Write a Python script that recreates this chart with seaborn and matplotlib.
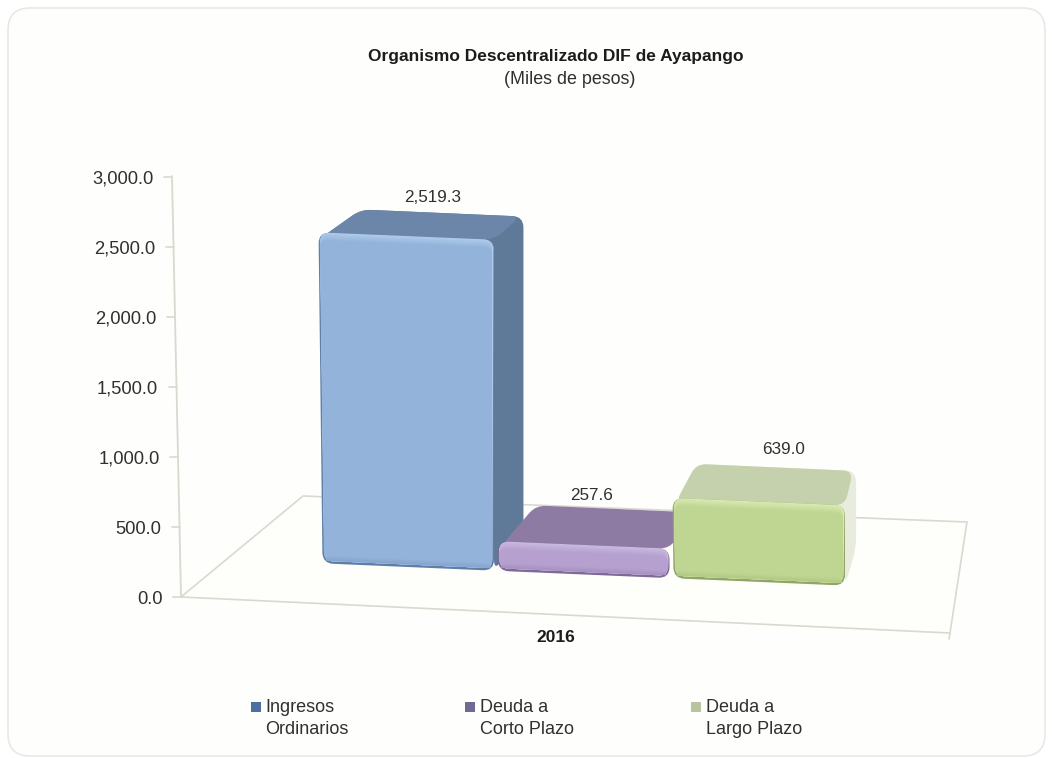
import numpy as np
import pandas as pd
import matplotlib
matplotlib.use("Agg")
import matplotlib.pyplot as plt
import seaborn as sns
from matplotlib.patches import FancyBboxPatch, PathPatch, Polygon, Rectangle
from matplotlib.path import Path
from matplotlib.transforms import Affine2D
from matplotlib.colors import to_rgb

# -----------------------------
# DATA
# -----------------------------
years = [2016, 2016, 2016]
series = ["Ingresos Ordinarios", "Deuda a Corto Plazo", "Deuda a Largo Plazo"]
values = [2519.3, 257.6, 639.0]
y_ticks = [0, 500, 1000, 1500, 2000, 2500, 3000]
legend_lines = [("Ingresos", "Ordinarios"), ("Deuda a", "Corto Plazo"), ("Deuda a", "Largo Plazo")]

# -----------------------------
# STYLE
# -----------------------------
face = ["#93B3DB", "#B5A0CF", "#BFD692"]
light = ["#AECAEA", "#C9B8E0", "#D9E9B0"]
dark = ["#5F7FA8", "#7D6A97", "#8FA668"]
top_c = ["#6B86A9", "#8E7BA3", "#C5D0AC"]
side_c = ["#5F7999", "#7F6E95", "#E8ECDE"]
legend_c = ["#4B6F9F", "#6E6A93", "#B9C5A0"]
label_xy = [(433, 198), (592, 496), (784, 450)]
legend_x = [251, 465, 691]
grey = "#D9D9D0"
txt = "#303030"

W, H = 1052, 758

sns.set_theme(style="white")
plt.rcParams["font.family"] = ["Liberation Sans", "DejaVu Sans"]

fig = plt.figure(figsize=(W / 100, H / 100), dpi=100, facecolor="white")
ax = fig.add_axes([172 / W, 1 - 597 / H, (967 - 172) / W, 420 / H])
ax.patch.set_alpha(0)

# image pixels, y going down
PX = Affine2D().scale(1, -1).translate(0, H)

df = pd.DataFrame({"year": years, "serie": series, "value": values})
sns.barplot(data=df, x="year", y="value", hue="serie", hue_order=series,
            palette=face, width=0.9, gap=0.02, legend=False, ax=ax)

ax.set_xlim((172 - 583.5) / 585, (967 - 583.5) / 585)
ax.set_ylim(0, 3000)
ax.set_xlabel("")
ax.set_ylabel("")
ax.set_xticks([])
ax.set_yticks(y_ticks)
ax.set_yticklabels([f"{t:,.1f}" for t in y_ticks], fontsize=13.2, color=txt)
ax.tick_params(axis="y", length=0, pad=0)
sns.despine(ax=ax, left=True, bottom=True)


def axis_x(v):
    return 181 - 9 * v / 3000


# tick labels lean with the axis
for t, lab in zip(y_ticks, ax.get_yticklabels()):
    lab.set_transform(lab.get_transform() + Affine2D().translate(axis_x(t) - 18.5 - 172, 0))


def rounded(pts, r):
    pts = [np.array(p, dtype=float) for p in pts]
    n = len(pts)
    verts, codes = [], []
    for i in range(n):
        p, a, b = pts[i], pts[i - 1], pts[(i + 1) % n]
        rr = min(r, np.linalg.norm(a - p) / 2, np.linalg.norm(b - p) / 2)
        p1 = p + (a - p) / np.linalg.norm(a - p) * rr
        p2 = p + (b - p) / np.linalg.norm(b - p) * rr
        verts += [p1, p, p2]
        codes += [Path.LINETO if i else Path.MOVETO, Path.CURVE3, Path.CURVE3]
    verts.append(verts[0])
    codes.append(Path.CLOSEPOLY)
    return Path(verts, codes)


def shape(pts, r, color, z):
    ax.add_patch(PathPatch(rounded(pts, r), fc=color, ec="none", transform=PX, clip_on=False, zorder=z))


def mix(a, b, t):
    a, b = np.array(to_rgb(a)), np.array(to_rgb(b))
    return tuple(a + (b - a) * t)


def depth(x, y):
    return 59.3 - 0.075 * x + 0.03 * y, -(23 + 0.042 * (y - 235))


def base_y(x):
    return 563.5 + 0.0425 * (x - 325)


# -----------------------------
# FRAME AND FLOOR
# -----------------------------
ax.add_patch(FancyBboxPatch((30, 30), 993, 704, boxstyle="round,pad=22,rounding_size=22",
                            fc="#FEFEFC", ec="#E8E8E4", lw=1.2, transform=PX, clip_on=False, zorder=-5))
floor = [(181, 597), (303, 496), (967, 522), (950, 633)]
ax.add_patch(Polygon(floor, closed=True, fc="#FEFEFA", ec=grey, lw=1.2, transform=PX, clip_on=False, zorder=0))
ax.plot([axis_x(3000), axis_x(0)], [176, 597], color=grey, lw=1.3, transform=PX, clip_on=False, zorder=1)
ax.plot([950, 949], [633, 639], color=grey, lw=1.2, transform=PX, clip_on=False, zorder=1)
for t in y_ticks:
    y0 = ax.transData.transform((0, t))[1]
    ax.plot([axis_x(t) - 8, axis_x(t)], [H - y0, H - y0], color=grey, lw=1.2,
            transform=PX, clip_on=False, zorder=1)

# -----------------------------
# 3D BOXES FROM THE SEABORN BARS
# -----------------------------
bars = sorted([p for p in ax.patches if isinstance(p, Rectangle) and p.get_height() > 0
               and p.get_width() < 1], key=lambda p: p.get_x())
for i, p in enumerate(bars):
    xl = ax.transData.transform((p.get_x(), 0))[0]
    xr = ax.transData.transform((p.get_x() + p.get_width(), 0))[0]
    hpx = ax.transData.transform((0, p.get_height()))[1] - ax.transData.transform((0, 0))[1]
    h = 0.952 * hpx - 4.8
    p.set_visible(False)

    z = 10 + i * 10
    bl = (xl + 0.5, base_y(xl))
    br = (xr, base_y(xr))
    tl = (xl - 0.012 * h + 0.5, base_y(xl) - h)
    tr = (xr, base_y(xr) - h)

    dtl = depth(*tl)
    dtr = depth(*tr)
    btl = (tl[0] + dtl[0], tl[1] + dtl[1])
    btr = (tr[0] + dtr[0], tr[1] + dtr[1])
    bbr = (btr[0], br[1] + depth(*br)[1])
    shoulder = (tl[0] + 3, tl[1] + 5)

    # side and top share one rounded outline, the short purple box shows no side
    if i == 1:
        shape([shoulder, btl, btr, tr], 10, top_c[i], z)
    else:
        shape([shoulder, btl, btr, bbr, br, tr], 11, side_c[i], z)
        shape([shoulder, btl, (btr[0] - 3, btr[1]), tr], 10, top_c[i], z + 0.5)

    # front: dark rim, light band along the top, darker towards the foot
    front = [tl, tr, br, bl]
    shape(front, 11, dark[i], z + 2)
    inner = [(tl[0] + 1.2, tl[1]), (tr[0] - 0.5, tr[1]), (br[0] - 1.5, br[1] - 2.5), (bl[0] + 1.5, bl[1] - 2.5)]
    shape(inner, 10, light[i], z + 3)
    for k in range(1, 8):
        layer = [(inner[0][0] + 0.4, inner[0][1] + k * 1.1), (inner[1][0] - 1.5, inner[1][1] + k * 1.1),
                 (inner[2][0] - 0.5, inner[2][1]), (inner[3][0] + 0.4, inner[3][1])]
        shape(layer, 8, mix(light[i], face[i], k / 7), z + 3 + k * 0.1)
    # soft shade at the foot
    foot = [(bl[0] + 4, bl[1] - 8), (br[0] - 4, br[1] - 8), (br[0] - 3, br[1] - 3), (bl[0] + 3, bl[1] - 3)]
    for k in range(4):
        pts = [foot[0], foot[1], foot[2], foot[3]]
        pts[0] = (pts[0][0], pts[0][1] + k * 1.3)
        pts[1] = (pts[1][0], pts[1][1] + k * 1.3)
        shape(pts, 3, mix(face[i], dark[i], 0.04 + k * 0.07), z + 4 + k * 0.1)

    ax.text(label_xy[i][0], label_xy[i][1], f"{values[i]:,.1f}", ha="center", va="center",
            fontsize=12.3, color=txt, transform=PX, zorder=60)

# -----------------------------
# TEXT
# -----------------------------
ax.text(555.5, 57, "Organismo Descentralizado DIF de Ayapango", ha="center", va="center",
        fontsize=12.5, fontweight="bold", color="#1c1c1c", transform=PX)
ax.text(570, 79, "(Miles de pesos)", ha="center", va="center", fontsize=12.9, color=txt, transform=PX)
ax.text(556, 637, str(years[0]), ha="center", va="center", fontsize=12.5, fontweight="bold",
        color="#1c1c1c", transform=PX)

for i, (a, b) in enumerate(legend_lines):
    x = legend_x[i]
    ax.add_patch(Rectangle((x, 702), 10, 10, fc=legend_c[i], ec="none", transform=PX, clip_on=False))
    ax.text(x + 14.5, 707, a, ha="left", va="center", fontsize=13, color=txt, transform=PX)
    ax.text(x + 14.5, 729, b, ha="left", va="center", fontsize=13, color=txt, transform=PX)

fig.savefig("out.png", dpi=100, facecolor="white")
